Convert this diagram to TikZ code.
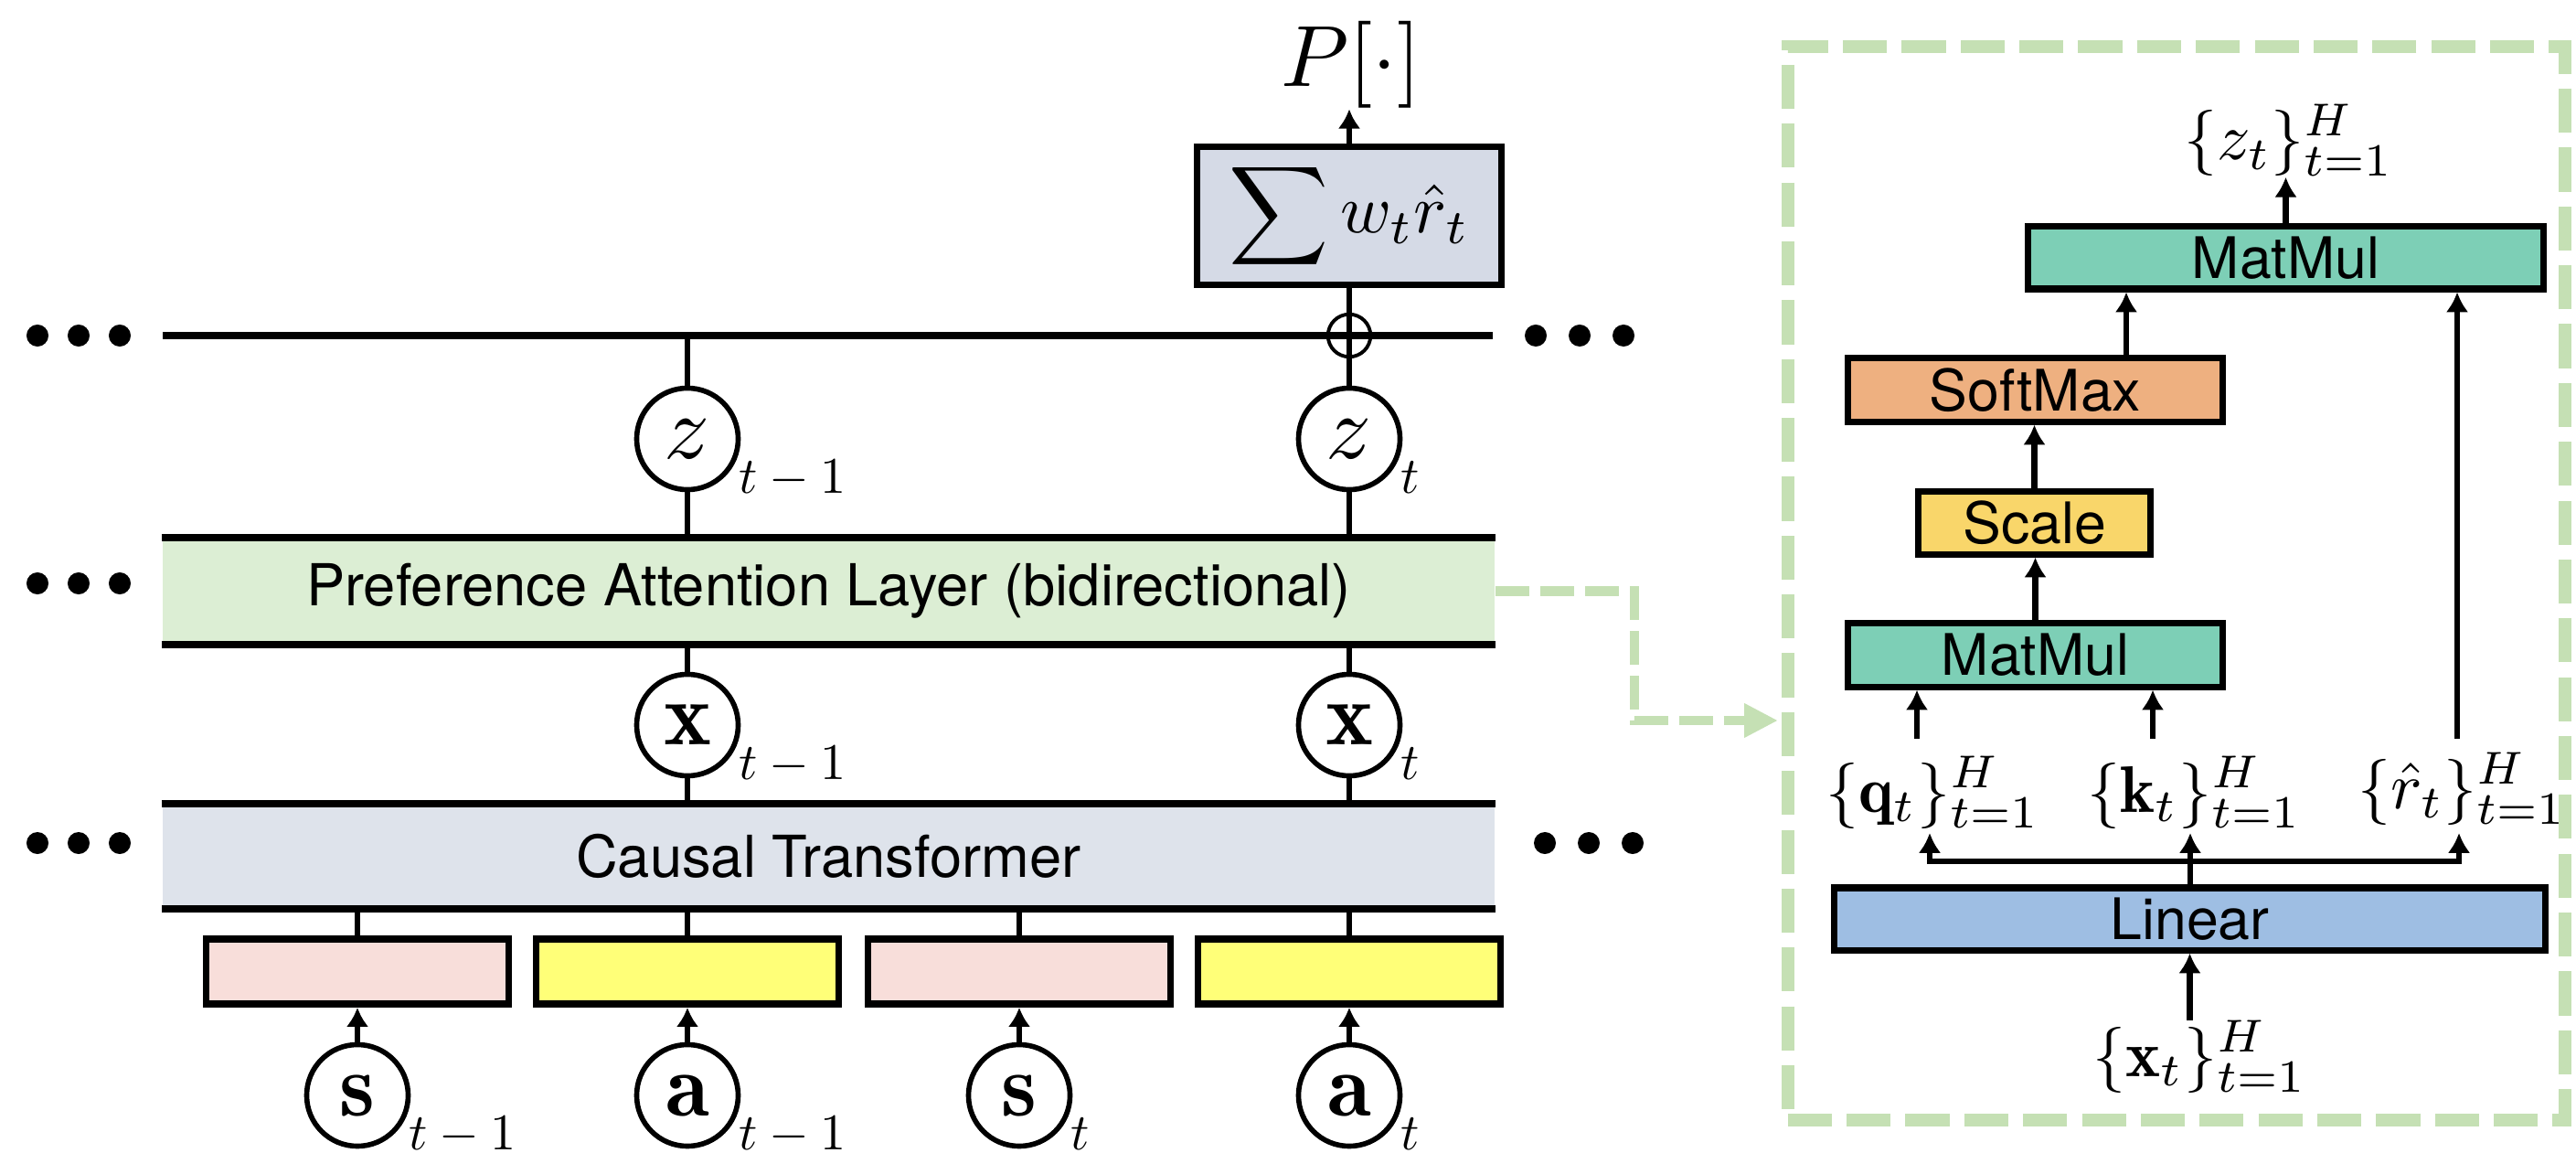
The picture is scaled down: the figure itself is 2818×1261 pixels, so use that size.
\documentclass[tikz,border=0pt]{standalone}
\usepackage{fontspec}
\usepackage{graphicx}
\newfontfamily\hv{TeX Gyre Heros}
\usetikzlibrary{arrows.meta}
\definecolor{palc}{HTML}{DCEED4}
\definecolor{ctc}{HTML}{DEE3EB}
\definecolor{sumc}{HTML}{D5DAE6}
\definecolor{pinkc}{HTML}{F8DEDA}
\definecolor{yelc}{HTML}{FFFF78}
\definecolor{mmc}{HTML}{7DCFB6}
\definecolor{smc}{HTML}{EEB080}
\definecolor{scc}{HTML}{F9D66A}
\definecolor{linc}{HTML}{9EBEE3}
\definecolor{grc}{HTML}{C5E0B4}
\newcommand{\mth}[2]{\scalebox{#1}{$#2$}}
\begin{document}
\begin{tikzpicture}[x=0.01cm,y=-0.01cm,
 conn/.style={line width=1.5pt},
 mainln/.style={line width=2.2pt},
 arr/.style={line width=1.6pt,-{Latex[length=6pt,width=7pt]}},
 rarr/.style={line width=1.8pt,-{Latex[length=6.2pt,width=7pt]}},
 circ/.style={circle,draw,line width=1.6pt,minimum size=1.11cm,inner sep=0pt,fill=white},
 subs/.style={anchor=base west,inner sep=0pt},
 tok/.style={draw,line width=2.2pt,minimum width=3.31cm,minimum height=0.71cm,inner sep=0pt},
 band/.style={minimum width=14.57cm,inner sep=0pt,font=\hv\fontsize{18}{20}\selectfont},
 rbox/.style={draw,line width=2pt,inner sep=0pt,minimum height=0.68cm,font=\hv\fontsize{17.8}{20}\selectfont},
 rlab/.style={anchor=base west,inner sep=0pt},
 dotc/.style={circle,fill,inner sep=0pt,minimum size=0.24cm},
]
\useasboundingbox (0,0) rectangle (2818,1261);

% ---------- left panel ----------
\node[band,fill=palc,minimum height=1.15cm] (pal) at (906.5,646.5) {Preference Attention Layer (bidirectional)};
\draw[mainln] (pal.north west) -- (pal.north east);
\draw[mainln] (pal.south west) -- (pal.south east);
\node[band,fill=ctc,minimum height=1.13cm] (ct) at (906.5,936.5) {Causal Transformer};
\draw[mainln] (ct.north west) -- (ct.north east);
\draw[mainln] (ct.south west) -- (ct.south east);

\coordinate (ml) at (178,367);
\coordinate (mr) at (1633,367);
\draw[mainln] (ml) -- (mr);

% dots
\foreach \i/\xx in {1/41,2/86,3/131} {
  \node[dotc] (dla\i) at (\xx,367) {};
  \node[dotc] (dlb\i) at (\xx,638) {};
  \node[dotc] (dlc\i) at (\xx,922) {};
}
\foreach \i/\xx in {1/1680,2/1728,3/1776} {
  \node[dotc] (dra\i) at (\xx,367) {};
}
\foreach \i/\xx in {1/1690,2/1738,3/1786} {
  \node[dotc] (drc\i) at (\xx,922) {};
}

% sum box and output
\node[draw,fill=sumc,line width=2pt,minimum width=3.33cm,minimum height=1.51cm,inner sep=0pt] (sum) at (1476,236) {\scalebox{2.15}{$\displaystyle\sum w_t\hat{r}_t$}};
\node[anchor=base,inner sep=0pt] (P) at (1478,95) {\mth{2.7}{P[\cdot]}};
\draw[arr] (sum.north) -- (sum.north |- P.south);

% circles
\node[circ] (z1) at (752,480) {\mth{2.8}{z}};
\node[circ] (z2) at (1476,480) {\mth{2.8}{z}};
\node[circ] (x1) at (752,793) {\mth{2.8}{\mathbf{x}}};
\node[circ] (x2) at (1476,793) {\mth{2.8}{\mathbf{x}}};
\node[circ] (s1) at (391,1198) {\mth{2.8}{\mathbf{s}}};
\node[circ] (a1) at (752,1198) {\mth{2.8}{\mathbf{a}}};
\node[circ] (s2) at (1115,1198) {\mth{2.8}{\mathbf{s}}};
\node[circ] (a2) at (1476,1198) {\mth{2.8}{\mathbf{a}}};

\node[subs] (z1s) at (808,539) {\mth{1.6}{t-1}};
\node[subs] (z2s) at (1532,539) {\mth{1.6}{t}};
\node[subs] (x1s) at (808,852) {\mth{1.6}{t-1}};
\node[subs] (x2s) at (1532,852) {\mth{1.6}{t}};
\node[subs] (s1s) at (447,1257) {\mth{1.6}{t-1}};
\node[subs] (a1s) at (808,1257) {\mth{1.6}{t-1}};
\node[subs] (s2s) at (1171,1257) {\mth{1.6}{t}};
\node[subs] (a2s) at (1532,1257) {\mth{1.6}{t}};

% plus
\node[circle,draw,line width=1.1pt,minimum size=0.465cm,inner sep=0pt] (plus) at (1476,367) {};

% tokens
\node[tok,fill=pinkc] (t1) at (391,1062.5) {};
\node[tok,fill=yelc] (t2) at (752,1062.5) {};
\node[tok,fill=pinkc] (t3) at (1115,1062.5) {};
\node[tok,fill=yelc] (t4) at (1476,1062.5) {};

% connectors
\draw[conn] (z1.north) -- (z1.north |- ml);
\draw[conn] (z1.south) -- (z1.south |- pal.north);
\draw[conn] (sum.south) -- (z2.north);
\draw[conn] (z2.south) -- (z2.south |- pal.north);
\draw[conn] (x1.north) -- (x1.north |- pal.south);
\draw[conn] (x1.south) -- (x1.south |- ct.north);
\draw[conn] (x2.north) -- (x2.north |- pal.south);
\draw[conn] (x2.south) -- (x2.south |- ct.north);
\foreach \t in {t1,t2,t3,t4} {
  \draw[conn] (\t.north) -- (\t.north |- ct.south);
}
\draw[arr] (s1.north) -- (t1.south);
\draw[arr] (a1.north) -- (t2.south);
\draw[arr] (s2.north) -- (t3.south);
\draw[arr] (a2.north) -- (t4.south);

% ---------- right panel ----------
\node[draw=grc,line width=4pt,dash pattern=on 13.7pt off 4.6pt,minimum width=8.5cm,minimum height=11.74cm,inner sep=0pt] (frame) at (2381,638) {};

\node[rbox,fill=mmc,minimum width=5.63cm] (mm2) at (2500.5,282) {MatMul};
\node[rbox,fill=smc,minimum width=4.09cm,minimum height=0.69cm] (sm) at (2226.5,426.5) {SoftMax};
\node[rbox,fill=scc,minimum width=2.53cm] (sc) at (2225.5,572) {Scale};
\node[rbox,fill=mmc,minimum width=4.09cm,minimum height=0.69cm] (mm1) at (2226.5,716.5) {MatMul};
\node[rbox,fill=linc,minimum width=7.77cm] (lin) at (2395.5,1005) {Linear};

\node[rlab] (zl) at (2389,175) {\mth{2.05}{\{z_t\}_{t=1}^{H}}};
\node[rlab] (ql) at (1997,888) {\mth{2.05}{\{\mathbf{q}_t\}_{t=1}^{H}}};
\node[rlab] (kl) at (2283,888) {\mth{2.05}{\{\mathbf{k}_t\}_{t=1}^{H}}};
\node[rlab] (rl) at (2579,884) {\mth{2.05}{\{\hat{r}_t\}_{t=1}^{H}}};
\node[rlab] (xl) at (2289,1177) {\mth{2.05}{\{\mathbf{x}_t\}_{t=1}^{H}}};

\coordinate (qtop) at (2097,808);
\coordinate (ktop) at (2355,808);
\coordinate (rtop) at (2688,808);
\coordinate (smx) at (2326,0);
\draw[rarr] (qtop) -- (qtop |- mm1.south);
\draw[rarr] (ktop) -- (ktop |- mm1.south);
\draw[rarr] (rtop) -- (rtop |- mm2.south);
\draw[rarr] (sm.north -| smx) -- (mm2.south -| smx);
\draw[rarr] (sc.north) -- (sc.north |- sm.south);
\draw[rarr] (mm1.north) -- (mm1.north |- sc.south);
\draw[rarr] (mm2.north) -- (mm2.north |- zl.south);

\coordinate (bm) at (2396,942);
\coordinate (qin) at (2111,911);
\coordinate (kin) at (2396,911);
\coordinate (rin) at (2690,911);
\draw[line width=1.8pt] (lin.north -| bm) -- (bm);
\draw[rarr] (bm) -| (qin);
\draw[rarr] (bm) -| (rin);
\draw[rarr] (bm) -- (kin);
\draw[rarr] (lin.south |- xl.north) -- (lin.south);

% dashed link
\coordinate (dcorner) at (1788,788);
\coordinate (dtip) at (1945,788);
\draw[grc,line width=2.85pt,dash pattern=on 10.5pt off 3.4pt,-{Triangle[length=10.5pt,width=10pt]}] (pal.east) -| (dcorner) -- (dtip);
\end{tikzpicture}
\end{document}
